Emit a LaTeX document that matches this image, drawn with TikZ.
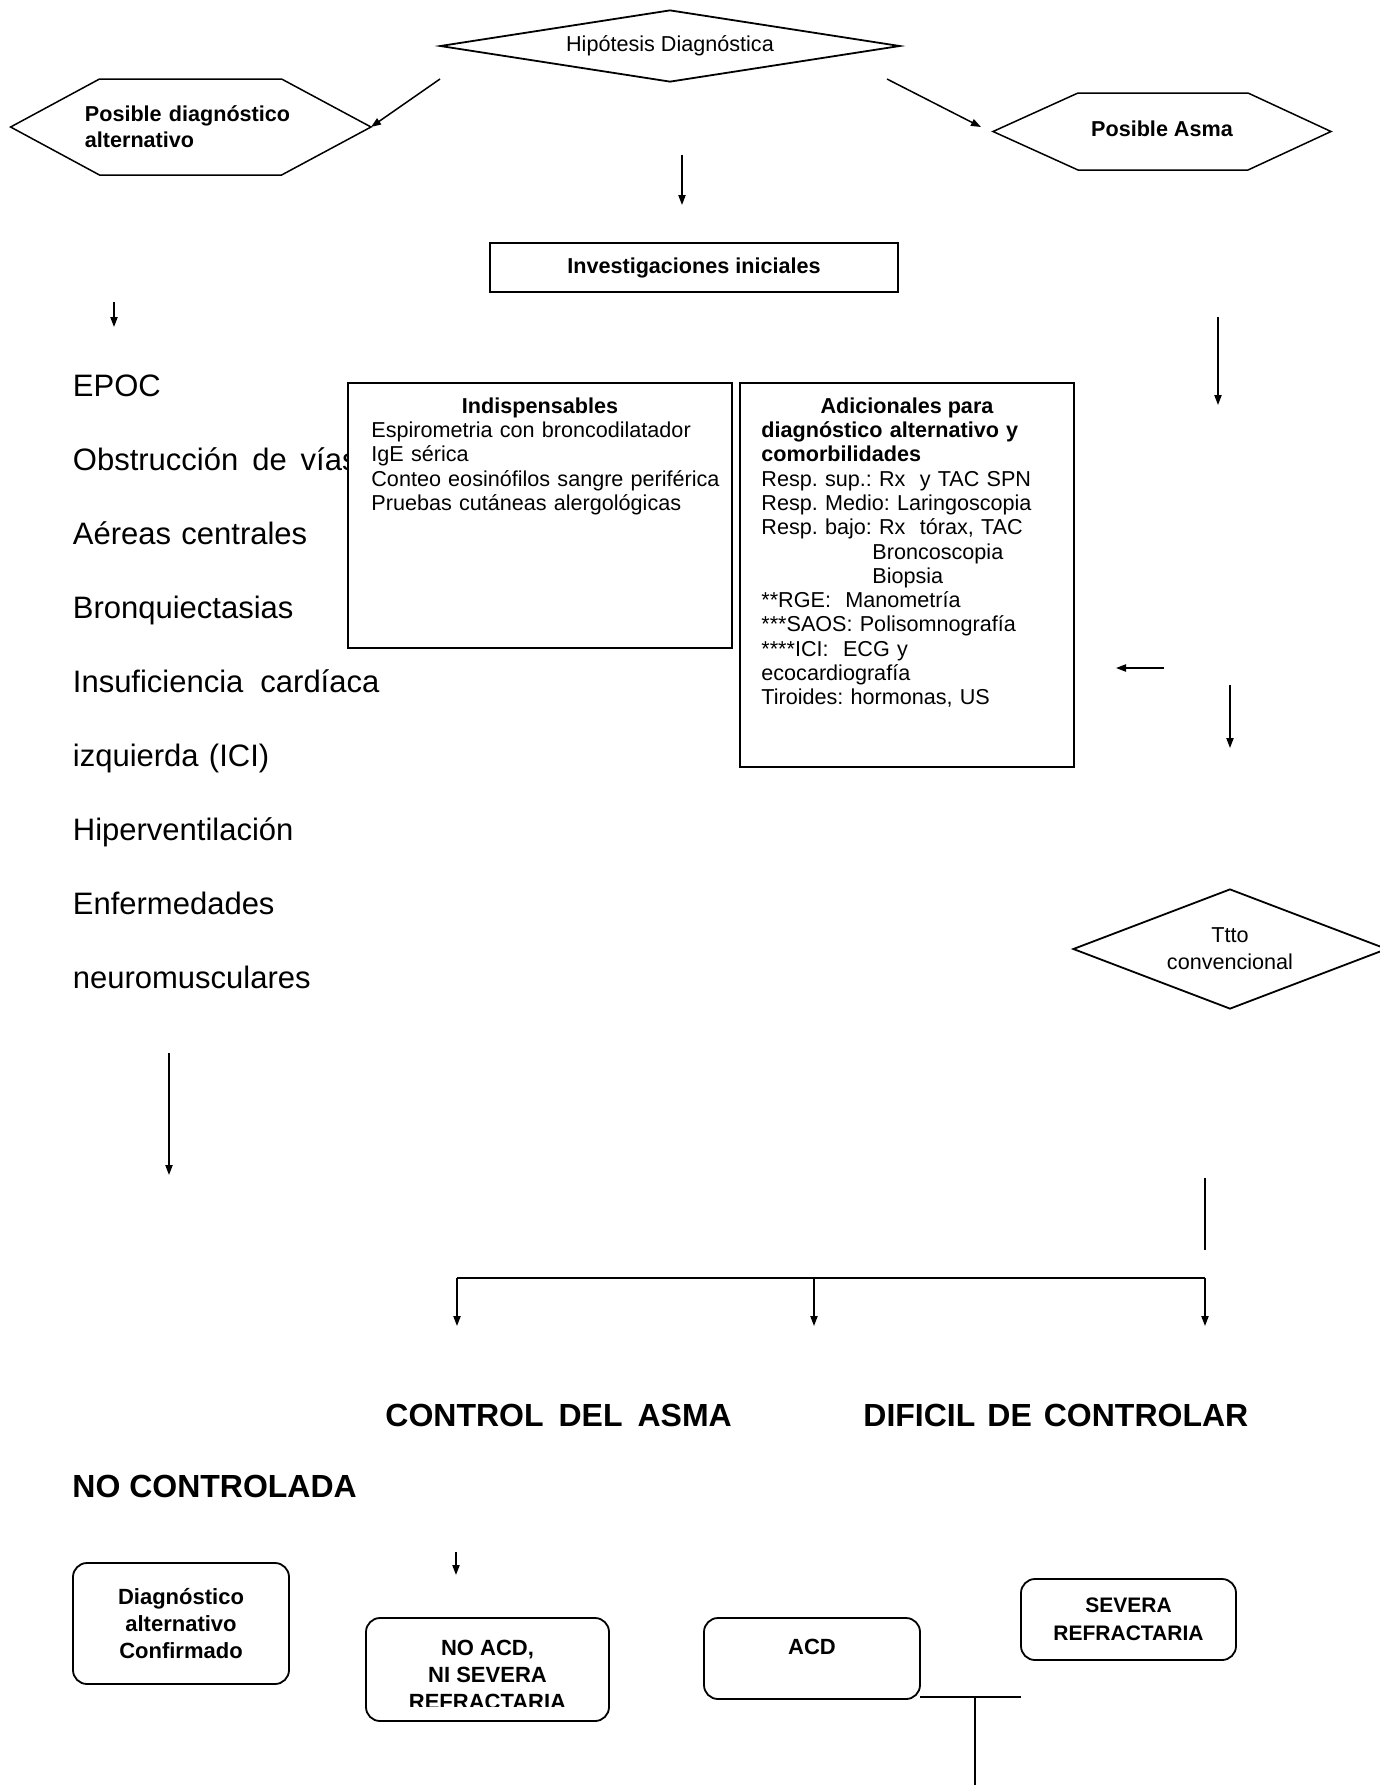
\documentclass[tikz,border=0pt]{standalone}
\usepackage{fontspec}
\setmainfont{Liberation Sans}
\usetikzlibrary{arrows.meta,shapes.geometric,positioning}
\frenchspacing

% Tipi di testo usati nel diagramma
\newcommand{\chica}{\fontsize{10.8}{12.15}\selectfont}
\newcommand{\grande}{\fontsize{15.5}{37}\selectfont}
\newcommand{\titular}{\fontsize{16}{18}\selectfont\bfseries}

\tikzset{
  flecha/.style={line width=0.75pt, -{Triangle[length=5pt,width=3.6pt]}},
  linea/.style={line width=0.75pt},
  rombo/.style={diamond, draw, line width=0.9pt, inner sep=0pt, align=center},
  caja/.style={rectangle, draw, line width=0.9pt, fill=white, inner sep=0pt},
  redonda/.style={rectangle, draw, rounded corners=7pt, line width=0.9pt, inner sep=0pt,
                  align=center, font=\fontsize{11}{13.5}\selectfont\bfseries},
  texto/.style={inner sep=0pt},
}

\begin{document}
\begin{tikzpicture}[x=0.5pt, y=-0.5pt]

    \useasboundingbox (0,0) rectangle (1380,1785);

    % Esagono: x sinistra, x1, x2, x destra, y alto, y basso
    \newcommand{\hexagono}[6]{
        \draw[linea] (#1,{(#5+#6)/2}) -- (#2,#5) -- (#3,#5) -- (#4,{(#5+#6)/2})
                     -- (#3,#6) -- (#2,#6) -- cycle;
    }

    % -- Parte alta: ipotesi e i due rami --
    \node[rombo, aspect=6.4, minimum width=230pt, minimum height=36pt, font=\chica] (hipo) at (670,46) {Hipótesis Diagnóstica};

    \hexagono{10.6}{99.5}{281.6}{371}{79}{175}
    \node[texto, anchor=base west, text width=110pt, align=left,
          font=\fontsize{10.8}{13}\selectfont\bfseries] (alt) at (84.5,121) {Posible diagnóstico\\alternativo};

    \hexagono{993}{1078}{1248}{1331}{93}{170}
    \node[texto, anchor=base, font=\chica\bfseries] (asma) at (1162,136) {Posible Asma};

    \coordinate (hipoIzq) at (440,79);
    \coordinate (altDer) at (371,127);
    \coordinate (hipoDer) at (887,79);
    \coordinate (asmaIzq) at (981,127);
    \draw[flecha] (hipoIzq) -- (altDer);
    \draw[flecha] (hipoDer) -- (asmaIzq);

    \coordinate (medArriba) at (682,155);
    \coordinate (medAbajo) at (682,205);
    \draw[flecha] (medArriba) -- (medAbajo);

    \node[caja, minimum width=204pt, minimum height=24.5pt, font=\chica\bfseries] (inv) at (694,267.5) {Investigaciones iniciales};

    % -- Colonna sinistra: diagnosi alternative --
    \coordinate (altArriba) at (114,302);
    \coordinate (altAbajo) at (114,327);
    \draw[flecha] (altArriba) -- (altAbajo);

    \node[texto, anchor=base west, text width=175pt, align=left, font=\grande] (lista) at (72.5,396)
        {EPOC\\
         Obstrucción\hspace{7pt}de\hspace{7pt}vías\\
         Aéreas centrales\\
         Bronquiectasias\\
         Insuficiencia\hspace{8.5pt}cardíaca\\
         izquierda (ICI)\\
         Hiperventilación\\
         Enfermedades\\
         neuromusculares};

    % -- Riquadri delle indagini --
    \node[caja, minimum width=192pt, minimum height=132.5pt] (indisp) at (540,515.5) {};
    \node[texto, anchor=base, font=\chica\bfseries] (indispTit) at (540,413) {Indispensables};
    \node[texto, anchor=base west, text width=185pt, align=left, font=\chica] (indispTxt) at (371,437.5)
        {Espirometria con broncodilatador\\
         IgE sérica\\
         Conteo eosinófilos sangre periférica\\
         Pruebas cutáneas alergológicas};

    \node[caja, minimum width=167pt, minimum height=192pt] (adic) at (907,575) {};
    \node[texto, anchor=base, font=\chica\bfseries] (adicTit) at (907,413) {Adicionales para};
    \node[texto, anchor=base west, text width=152pt, align=left, font=\chica] (adicTxt) at (761,437.5)
        {\textbf{diagnóstico alternativo y}\\
         \textbf{comorbilidades}\\
         Resp. sup.: Rx\ \ y TAC SPN\\
         Resp. Medio: Laringoscopia\\
         Resp. bajo: Rx\ \ tórax, TAC\\
         \hspace*{55.5pt}Broncoscopia\\
         \hspace*{55.5pt}Biopsia\\
         {**}RGE:\ \ Manometría\\
         {***}SAOS: Polisomnografía\\
         {****}ICI:\ \ ECG y\\
         ecocardiografía\\
         Tiroides: hormonas, US};

    % -- Colonna destra: asma --
    \coordinate (asmaArriba) at (1218,317);
    \coordinate (asmaAbajo) at (1218,405);
    \draw[flecha] (asmaArriba) -- (asmaAbajo);

    \coordinate (vueltaDer) at (1164,668);
    \coordinate (vueltaIzq) at (1116,668);
    \draw[flecha] (vueltaDer) -- (vueltaIzq);

    \coordinate (tttoArriba) at (1230,685);
    \coordinate (tttoAbajo) at (1230,748);
    \draw[flecha] (tttoArriba) -- (tttoAbajo);

    \node[rombo, aspect=2.6, minimum width=157pt, minimum height=60pt,
          font=\fontsize{10.8}{13.5}\selectfont] (ttto) at (1230,949) {Ttto\\convencional};

    \coordinate (listaArriba) at (169,1053);
    \coordinate (listaAbajo) at (169,1175);
    \draw[flecha] (listaArriba) -- (listaAbajo);

    \coordinate (tttoSale) at (1205,1178);
    \coordinate (tttoLlega) at (1205,1250);
    \draw[linea] (tttoSale) -- (tttoLlega);

    % Diramazione a tre frecce
    \coordinate (ramaIzq) at (457,1278);
    \coordinate (ramaMed) at (814,1278);
    \coordinate (ramaDer) at (1205,1278);
    \coordinate (puntaIzq) at (457,1326);
    \coordinate (puntaMed) at (814,1326);
    \coordinate (puntaDer) at (1205,1326);
    \draw[linea] (ramaIzq) -- (ramaDer);
    \draw[flecha] (ramaIzq) -- (puntaIzq);
    \draw[flecha] (ramaMed) -- (puntaMed);
    \draw[flecha] (ramaDer) -- (puntaDer);

    \node[texto, anchor=base west, font=\titular] (control) at (385,1426) {CONTROL\hspace{7.5pt}DEL\hspace{7.5pt}ASMA};
    \node[texto, anchor=base west, font=\titular] (dificil) at (863,1426) {DIFICIL\hspace{6pt}DE\hspace{6pt}CONTROLAR};
    \node[texto, anchor=base west, font=\titular] (nocontrol) at (72,1497) {NO CONTROLADA};

    % -- Parte bassa: esiti --
    \coordinate (noacdArriba) at (456,1552);
    \coordinate (noacdAbajo) at (456,1575);
    \draw[flecha] (noacdArriba) -- (noacdAbajo);

    \node[redonda, minimum width=108pt, minimum height=60.5pt] (confirmado) at (181,1623.5) {Diagnóstico\\alternativo\\Confirmado};

    \node[redonda, minimum width=121.5pt, minimum height=51.5pt] (noacd) at (487.5,1669.5) {};
    \begin{scope}
        \clip (366,1618) rectangle (609,1706);
        \node[texto, align=center, font=\fontsize{11}{13.5}\selectfont\bfseries] (noacdTxt) at (487.5,1674.5) {NO ACD,\\NI SEVERA\\REFRACTARIA};
    \end{scope}

    \node[redonda, minimum width=108pt, minimum height=40.5pt] (acd) at (812,1658.5) {};
    \node[texto, font=\fontsize{11}{13.5}\selectfont\bfseries] (acdTxt) at (812,1647) {ACD};

    \node[redonda, minimum width=107.5pt, minimum height=40.5pt, font=\fontsize{10.5}{14}\selectfont\bfseries] (severa) at (1128.5,1619.5) {SEVERA\\REFRACTARIA};

    \coordinate (acdDer) at (920,1697);
    \coordinate (severaIzq) at (1021,1697);
    \coordinate (acdBaja) at (975,1697);
    \coordinate (acdFin) at (975,1785);
    \draw[linea] (acdDer) -- (severaIzq);
    \draw[linea] (acdBaja) -- (acdFin);
\end{tikzpicture}
\end{document}
